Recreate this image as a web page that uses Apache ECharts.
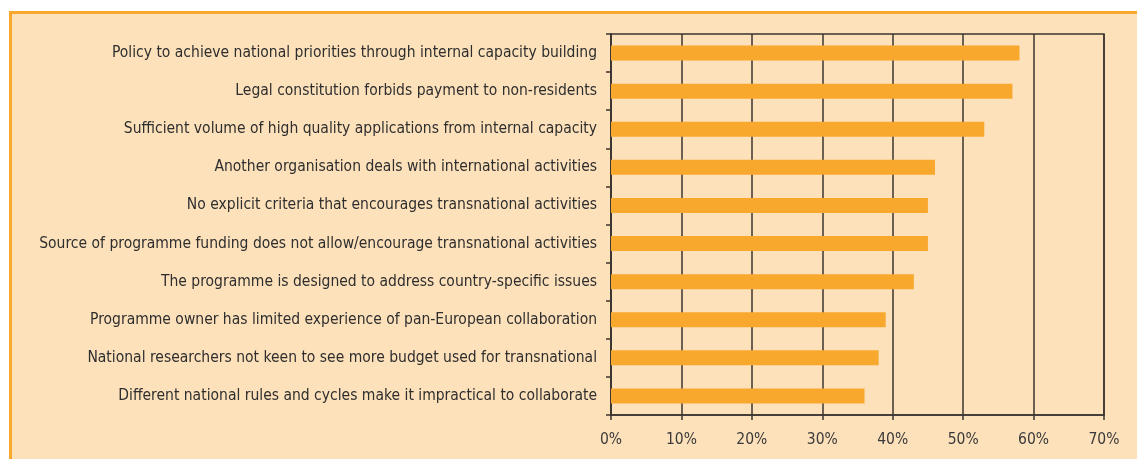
<!DOCTYPE html>
<html>
<head>
<meta charset="utf-8">
<style>
  html, body { margin: 0; padding: 0; background: #fff; }
  .frame {
    position: absolute; left: 9px; top: 11px; right: 0; bottom: 0;
    background: #fde1bb;
    border-top: 3px solid #f9a82e;
    border-left: 3px solid #f9a82e;
  }
  #chart { position: absolute; left: 0; top: 0; width: 1137px; height: 459px; }
</style>
<script src="https://cdn.jsdelivr.net/npm/echarts@6/dist/echarts.min.js"></script>
</head>
<body>
<div class="frame"></div>
<div id="chart"></div>
<script>
// reasons, top to bottom
const reasons = [
  "Policy to achieve national priorities through internal capacity building",
  "Legal constitution forbids payment to non-residents",
  "Sufficient volume of high quality applications from internal capacity",
  "Another organisation deals with international activities",
  "No explicit criteria that encourages transnational activities",
  "Source of programme funding does not allow/encourage transnational activities",
  "The programme is designed to address country-specific issues",
  "Programme owner has limited experience of pan-European collaboration",
  "National researchers not keen to see more budget used for transnational",
  "Different national rules and cycles make it impractical to collaborate"
];
// share of respondents, %
const shares = [58, 57, 53, 46, 45, 45, 43, 39, 38, 36];

const lineColor = "#3b3530";
const font = "'DejaVu Sans Condensed', sans-serif";

const myChart = echarts.init(document.getElementById("chart"));
myChart.setOption({
  backgroundColor: "transparent",
  animation: false,
  grid: {
    left: 611, right: 33, top: 34, bottom: 44,
    show: true, borderColor: lineColor, borderWidth: 1.5,
    backgroundColor: "transparent"
  },
  xAxis: {
    type: "value",
    min: 0, max: 70, interval: 10,
    axisLine: { show: true, lineStyle: { color: lineColor, width: 1.5 } },
    axisTick: { show: true, length: 5, lineStyle: { color: lineColor, width: 1.5 } },
    splitLine: { show: true, lineStyle: { color: lineColor, width: 1.5 } },
    axisLabel: {
      formatter: "{value}%", color: "#3a3a3a", fontSize: 15.5,
      fontFamily: font, margin: 17
    }
  },
  yAxis: {
    type: "category",
    inverse: true,
    data: reasons,
    axisLine: { show: true, lineStyle: { color: lineColor, width: 1.5 } },
    axisTick: { show: true, length: 5, lineStyle: { color: lineColor, width: 1.5 } },
    axisLabel: { color: "#2e2e2e", fontSize: 15.5, fontFamily: font, margin: 14 }
  },
  series: [{
    type: "bar",
    data: shares,
    barWidth: 15,
    itemStyle: { color: "#f9a82e" }
  }]
});
</script>
</body>
</html>
